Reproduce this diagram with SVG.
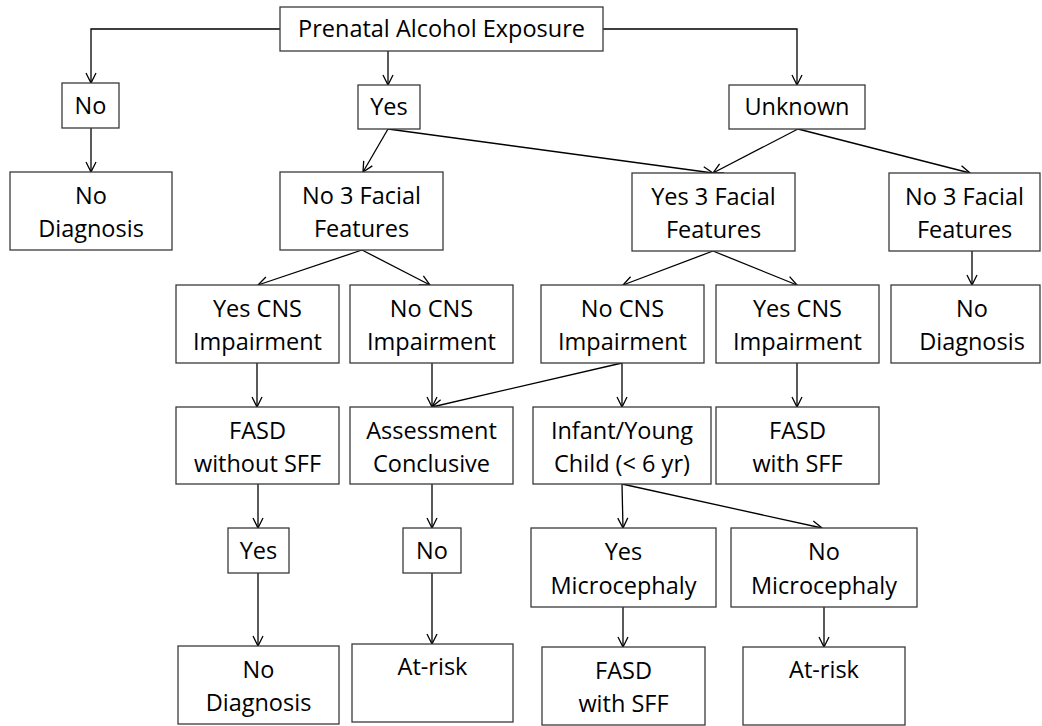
<svg xmlns="http://www.w3.org/2000/svg" width="1042" height="726" viewBox="0 0 1042 726">
<style>
rect.b{fill:#fff;stroke:#3a3a3a;stroke-width:1.3}
text{font-family:"Open Sans","Liberation Sans",sans-serif;font-size:23.5px;fill:#000;text-anchor:middle}
.c path{fill:none;stroke:#000;stroke-width:1.3;marker-end:url(#ah)}
</style>
<defs>
<marker id="ah" viewBox="0 0 12 12" refX="11" refY="6" markerWidth="12" markerHeight="12" markerUnits="userSpaceOnUse" orient="auto">
<path d="M1,1 L11,6 L1,11" fill="none" stroke="#000" stroke-width="1.3"/>
</marker>
</defs>
<rect width="1042" height="726" fill="#fff"/>
<g class="c" id="connectors">
<path d="M280,29 H91 V83"/>
<path d="M388,51 V85"/>
<path d="M603,29 H797 V85"/>
<path d="M91,128 V172"/>
<path d="M388,129 L363,172"/>
<path d="M388,129 L713,173"/>
<path d="M798,129 L713,173"/>
<path d="M798,129 L970,173"/>
<path d="M362,250 L258,285"/>
<path d="M362,250 L430,285"/>
<path d="M713,251 L623,285"/>
<path d="M713,251 L797,285"/>
<path d="M972,251 V285"/>
<path d="M257,363 V407"/>
<path d="M432,363 V407"/>
<path d="M622,363 L432,407"/>
<path d="M622,363 V407"/>
<path d="M797,363 V407"/>
<path d="M258,484 V528"/>
<path d="M432,484 V528"/>
<path d="M622,484 L623,528"/>
<path d="M622,484 L822,528"/>
<path d="M258,573 V646"/>
<path d="M432,573 V644"/>
<path d="M623,607 V647"/>
<path d="M824,607 V647"/>
</g>
<g id="n-top"><rect class="b" x="280" y="7" width="323" height="44"/><text x="441.5" y="37">Prenatal Alcohol Exposure</text></g>
<g id="n-no"><rect class="b" x="62" y="83" width="57" height="45"/><text x="90.5" y="114">No</text></g>
<g id="n-yes"><rect class="b" x="358" y="85" width="62" height="44"/><text x="389" y="115">Yes</text></g>
<g id="n-unknown"><rect class="b" x="729" y="85" width="136" height="44"/><text x="797" y="115">Unknown</text></g>
<g id="n-nodiag1"><rect class="b" x="10" y="172" width="162" height="78"/><text x="91" y="204">No</text><text x="91" y="237">Diagnosis</text></g>
<g id="n-no3f"><rect class="b" x="280" y="172" width="163" height="78"/><text x="361.5" y="204">No 3 Facial</text><text x="361.5" y="237">Features</text></g>
<g id="n-yes3f"><rect class="b" x="632" y="173" width="163" height="78"/><text x="713.5" y="205">Yes 3 Facial</text><text x="713.5" y="238">Features</text></g>
<g id="n-no3f-r"><rect class="b" x="889" y="173" width="151" height="78"/><text x="964.5" y="205">No 3 Facial</text><text x="964.5" y="238">Features</text></g>
<g id="n-yescns1"><rect class="b" x="176" y="285" width="163" height="78"/><text x="257.5" y="317">Yes CNS</text><text x="257.5" y="350">Impairment</text></g>
<g id="n-nocns1"><rect class="b" x="350" y="285" width="163" height="78"/><text x="431.5" y="317">No CNS</text><text x="431.5" y="350">Impairment</text></g>
<g id="n-nocns2"><rect class="b" x="541" y="285" width="163" height="78"/><text x="622.5" y="317">No CNS</text><text x="622.5" y="350">Impairment</text></g>
<g id="n-yescns2"><rect class="b" x="716" y="285" width="163" height="78"/><text x="797.5" y="317">Yes CNS</text><text x="797.5" y="350">Impairment</text></g>
<g id="n-nodiag2"><rect class="b" x="891" y="285" width="149" height="78"/><text x="972" y="317">No</text><text x="972" y="350">Diagnosis</text></g>
<g id="n-fasd-wo"><rect class="b" x="176" y="407" width="163" height="77"/><text x="257.5" y="439">FASD</text><text x="257.5" y="472">without SFF</text></g>
<g id="n-assess"><rect class="b" x="350" y="407" width="163" height="77"/><text x="431.5" y="439">Assessment</text><text x="431.5" y="472">Conclusive</text></g>
<g id="n-infant"><rect class="b" x="533" y="407" width="178" height="77"/><text x="622" y="439">Infant/Young</text><text x="622" y="472">Child (&lt; 6 yr)</text></g>
<g id="n-fasd-sff1"><rect class="b" x="716" y="407" width="163" height="77"/><text x="797.5" y="439">FASD</text><text x="797.5" y="472">with SFF</text></g>
<g id="n-yes2"><rect class="b" x="228" y="528" width="61" height="45"/><text x="258.5" y="559">Yes</text></g>
<g id="n-no2"><rect class="b" x="403" y="528" width="58" height="45"/><text x="432" y="559">No</text></g>
<g id="n-yesmicro"><rect class="b" x="531" y="528" width="185" height="79"/><text x="623.5" y="560">Yes</text><text x="623.5" y="594">Microcephaly</text></g>
<g id="n-nomicro"><rect class="b" x="731" y="528" width="186" height="79"/><text x="824" y="560">No</text><text x="824" y="594">Microcephaly</text></g>
<g id="n-nodiag3"><rect class="b" x="178" y="646" width="161" height="78"/><text x="258.5" y="678">No</text><text x="258.5" y="711">Diagnosis</text></g>
<g id="n-atrisk1"><rect class="b" x="352" y="644" width="161" height="78"/><text x="432.5" y="675">At-risk</text></g>
<g id="n-fasd-sff2"><rect class="b" x="542" y="647" width="163" height="78"/><text x="623.5" y="679">FASD</text><text x="623.5" y="712">with SFF</text></g>
<g id="n-atrisk2"><rect class="b" x="743" y="647" width="162" height="78"/><text x="824" y="678">At-risk</text></g>
</svg>
